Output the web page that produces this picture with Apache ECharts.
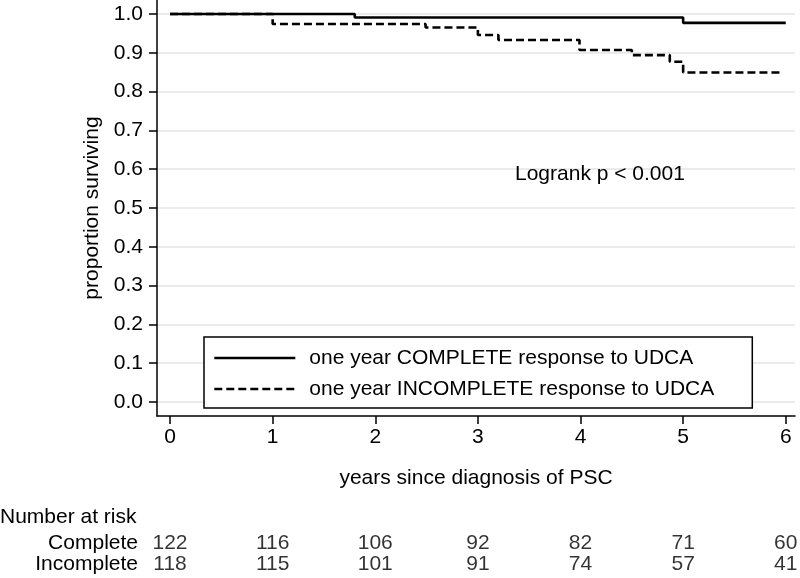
<!DOCTYPE html>
<html>
<head>
<meta charset="utf-8">
<script src="https://cdn.jsdelivr.net/npm/echarts@6/dist/echarts.min.js"></script>
<style>html,body{margin:0;padding:0;background:#fff}#c{width:800px;height:578px}</style>
</head>
<body>
<div id="c"></div>
<script>
// ---- data ----
const seriesNames = ['one year COMPLETE response to UDCA', 'one year INCOMPLETE response to UDCA'];
const completeCurve = [[0,1.0],[1.80,0.991],[5.0,0.977],[6.0,0.977]];
const incompleteCurve = [[0,1.0],[1.0,0.974],[2.49,0.965],[3.0,0.946],[3.2,0.933],[3.99,0.907],[4.5,0.894],[4.87,0.877],[5.0,0.849],[5.97,0.849]];
const xTicks = [0,1,2,3,4,5,6];
const yTicks = [0,0.1,0.2,0.3,0.4,0.5,0.6,0.7,0.8,0.9,1.0];
const riskGroups = ['Complete','Incomplete'];
const riskTimes = [0,1,2,3,4,5,6];
const riskComplete = [122,116,106,92,82,71,60];
const riskIncomplete = [118,115,101,91,74,57,41];
const xTitle = 'years since diagnosis of PSC';
const yTitle = 'proportion surviving';
const annotation = 'Logrank p < 0.001';
const riskTitle = 'Number at risk';

const FONT = '"Liberation Sans", Arial, Helvetica, sans-serif';
const FS = 21;
const riskData = [];
riskTimes.forEach((t,i)=>{
  riskData.push([t, 0, riskComplete[i]]);
  riskData.push([t, 1, riskIncomplete[i]]);
});

const chart = echarts.init(document.getElementById('c'), null, {renderer:'canvas'});
chart.setOption({
  animation:false,
  backgroundColor:'#fff',
  textStyle:{fontFamily:FONT},
  grid:[
    {left:157, right:5, top:0, bottom:162, containLabel:false},
    {left:157, right:5, top:532.5, height:42, containLabel:false}
  ],
  xAxis:[{
    type:'value', gridIndex:0, min:-0.127, max:6.09,
    axisLine:{show:true, onZero:false, lineStyle:{color:'#000', width:1.5}},
    axisTick:{show:true, length:8, lineStyle:{color:'#000', width:1.5}, customValues:xTicks},
    axisLabel:{show:true, customValues:xTicks, color:'#000', fontSize:FS, fontFamily:FONT, margin:11},
    splitLine:{show:false},
    name:xTitle, nameLocation:'middle', nameGap:52,
    nameTextStyle:{color:'#000', fontSize:FS, fontFamily:FONT}
  },{
    type:'value', gridIndex:1, min:-0.127, max:6.09, show:false
  }],
  yAxis:[{
    type:'value', gridIndex:0, min:-0.036, max:1.036,
    axisLine:{show:true, onZero:false, lineStyle:{color:'#000', width:1.5}},
    axisTick:{show:true, length:8, lineStyle:{color:'#000', width:1.5}, customValues:yTicks},
    axisLabel:{show:true, customValues:yTicks, color:'#000', fontSize:FS, fontFamily:FONT, margin:14,
      formatter:v=>v.toFixed(1)},
    splitLine:{show:true, lineStyle:{color:'#e4e4e4', width:1.5}},
    name:yTitle, nameLocation:'middle', nameGap:48,
    nameTextStyle:{color:'#000', fontSize:FS, fontFamily:FONT}
  },{
    type:'category', gridIndex:1, data:riskGroups, inverse:true,
    axisLine:{show:false}, axisTick:{show:false}, splitLine:{show:false},
    axisLabel:{color:'#000', fontSize:FS, fontFamily:FONT, margin:19, interval:0}
  }],
  legend:{
    data:seriesNames, orient:'vertical', left:204, top:337,
    padding:[10,38,8,9], borderColor:'#000', borderWidth:1.5, backgroundColor:'#fff',
    itemWidth:81, itemHeight:14, itemGap:9, selectedMode:false,
    itemStyle:{opacity:0},
    lineStyle:{width:2.6},
    textStyle:{color:'#000', fontSize:FS, fontFamily:FONT, lineHeight:22, padding:[0,0,0,9]}
  },
  graphic:[
    {type:'text', z:100, left:515, top:164, style:{text:annotation, fill:'#000', fontSize:FS, fontFamily:FONT}},
    {type:'text', z:100, left:0, top:507, style:{text:riskTitle, fill:'#000', fontSize:FS, fontFamily:FONT}}
  ],
  series:[
    {type:'line', name:seriesNames[1], xAxisIndex:0, yAxisIndex:0, step:'end', data:incompleteCurve,
     symbol:'none', z:3, lineStyle:{color:'#000', width:2.6, type:[8,4]}, itemStyle:{color:'#000'}},
    {type:'line', name:seriesNames[0], xAxisIndex:0, yAxisIndex:0, step:'end', data:completeCurve,
     symbol:'none', z:4, lineStyle:{color:'#000', width:2.6, type:'solid'}, itemStyle:{color:'#000'}},
    {type:'scatter', xAxisIndex:1, yAxisIndex:1, data:riskData, symbolSize:0, silent:true,
     label:{show:true, position:'inside', color:'#000', fontSize:FS, fontFamily:FONT,
       formatter:p=>String(p.value[2])}}
  ]
});
</script>
</body>
</html>
